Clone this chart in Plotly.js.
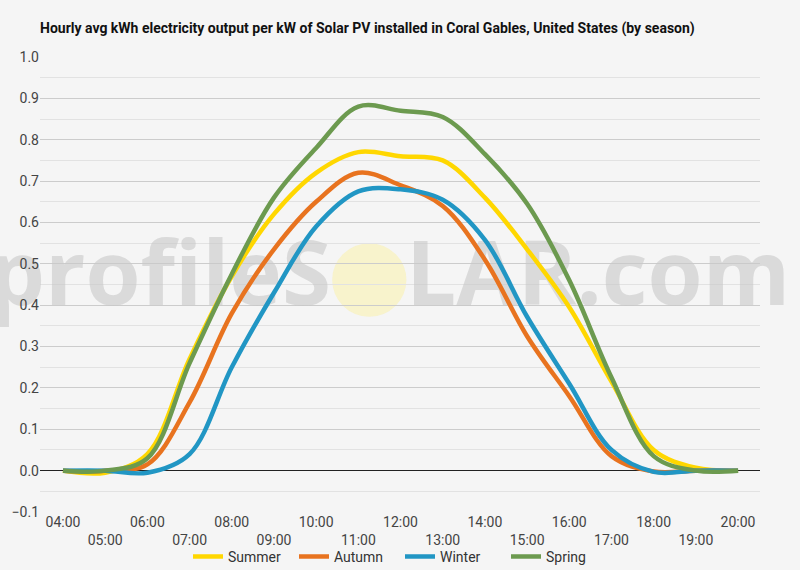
<!DOCTYPE html>
<html>
<head>
<meta charset="utf-8">
<script src="https://cdn.plot.ly/plotly-3.0.1.min.js"></script>
<style>
  body { margin: 0; background: #f5f5f5; }
  #chart { width: 800px; height: 570px; }
</style>
</head>
<body>
<div id="chart"></div>
<script>
// hourly averages, 04:00 .. 20:00
var hours = ['04:00', '05:00', '06:00', '07:00', '08:00', '09:00', '10:00', '11:00', '12:00',
             '13:00', '14:00', '15:00', '16:00', '17:00', '18:00', '19:00', '20:00'];

var summer = [0.0, -0.005, 0.04, 0.27, 0.47, 0.62, 0.72, 0.77, 0.76, 0.75, 0.66, 0.535, 0.395, 0.215, 0.05, 0.007, 0.0];
var autumn = [0.0, 0.0, 0.015, 0.165, 0.38, 0.535, 0.65, 0.72, 0.69, 0.64, 0.51, 0.325, 0.18, 0.035, -0.002, 0.0, 0.0];
var winter = [0.0, 0.0, -0.005, 0.04, 0.25, 0.43, 0.59, 0.675, 0.68, 0.655, 0.558, 0.372, 0.21, 0.05, -0.003, 0.0, 0.0];
var spring = [0.0, 0.0, 0.03, 0.26, 0.475, 0.66, 0.78, 0.88, 0.87, 0.855, 0.765, 0.645, 0.46, 0.225, 0.035, 0.0, 0.0];

var seasons = [
    {name: 'Summer', y: summer, color: '#FFD700'},
    {name: 'Autumn', y: autumn, color: '#E8731F'},
    {name: 'Winter', y: winter, color: '#2196C4'},
    {name: 'Spring', y: spring, color: '#6C9A4F'}
];

var idx = hours.map(function (h, i) { return i; });
// labels alternate between two rows
var tickText = hours.map(function (h, i) { return i % 2 ? '<br>' + h : h; });

var wmFont = {family: 'Open Sans', size: 89, color: 'rgba(200,200,200,0.6)', weight: 'bold'};

var data = [
    // watermark, drawn first so it sits behind the lines
    {type: 'scatter', mode: 'text', x: [6.35], y: [0.455], text: ['profileS'], cliponaxis: false,
     textposition: 'middle left', textfont: wmFont, hoverinfo: 'skip', showlegend: false},
    {type: 'scatter', mode: 'text', x: [8.13], y: [0.455], text: ['LAR.com'], cliponaxis: false,
     textposition: 'middle right', textfont: wmFont, hoverinfo: 'skip', showlegend: false}
];

seasons.forEach(function (s) {
    data.push({
        type: 'scatter',
        mode: 'lines',
        name: s.name,
        x: idx,
        y: s.y,
        line: {color: s.color, width: 4.5, shape: 'spline', smoothing: 1}
    });
});

var layout = {
    width: 800,
    height: 570,
    paper_bgcolor: '#f5f5f5',
    plot_bgcolor: '#f5f5f5',
    margin: {l: 40, r: 40, t: 57, b: 58},
    font: {family: 'Roboto', size: 14, color: '#444'},
    title: {
        text: 'Hourly avg kWh electricity output per kW of Solar PV installed in Coral Gables, United States (by season)',
        font: {family: 'Roboto', size: 14, color: '#111', weight: 'bold'},
        x: 0.05, xref: 'container', xanchor: 'left',
        y: 0.951, yref: 'container', yanchor: 'middle'
    },
    xaxis: {
        type: 'linear',
        range: [-0.545, 16.52],
        tickvals: idx,
        ticktext: tickText,
        showgrid: false,
        zeroline: false,
        showline: false,
        ticks: '',
        automargin: false,
        tickfont: {size: 14, color: '#444'},
        fixedrange: true
    },
    yaxis: {
        range: [-0.1, 1.0],
        dtick: 0.1,
        tick0: 0,
        tickformat: '.1f',
        gridcolor: '#cccccc',
        gridwidth: 1,
        minor: {dtick: 0.05, showgrid: true, gridcolor: '#e2e2e2', gridwidth: 1},
        zeroline: true,
        zerolinecolor: '#222',
        zerolinewidth: 1,
        ticks: '',
        automargin: false,
        tickfont: {size: 14, color: '#444'},
        fixedrange: true
    },
    shapes: [{
        type: 'circle', xref: 'x', yref: 'y', layer: 'below',
        x0: 6.38, x1: 8.14, y0: 0.372, y1: 0.55,
        fillcolor: 'rgba(250,240,170,0.55)', line: {width: 0}
    }],
    legend: {
        orientation: 'h',
        x: 0.5, xanchor: 'center', xref: 'container',
        y: 0.023, yanchor: 'middle', yref: 'container',
        entrywidth: 61, entrywidthmode: 'pixels',
        font: {size: 14, color: '#333'},
        bgcolor: 'rgba(0,0,0,0)'
    },
    showlegend: true
};

Plotly.newPlot('chart', data, layout, {displayModeBar: false, staticPlot: true});
</script>
</body>
</html>
